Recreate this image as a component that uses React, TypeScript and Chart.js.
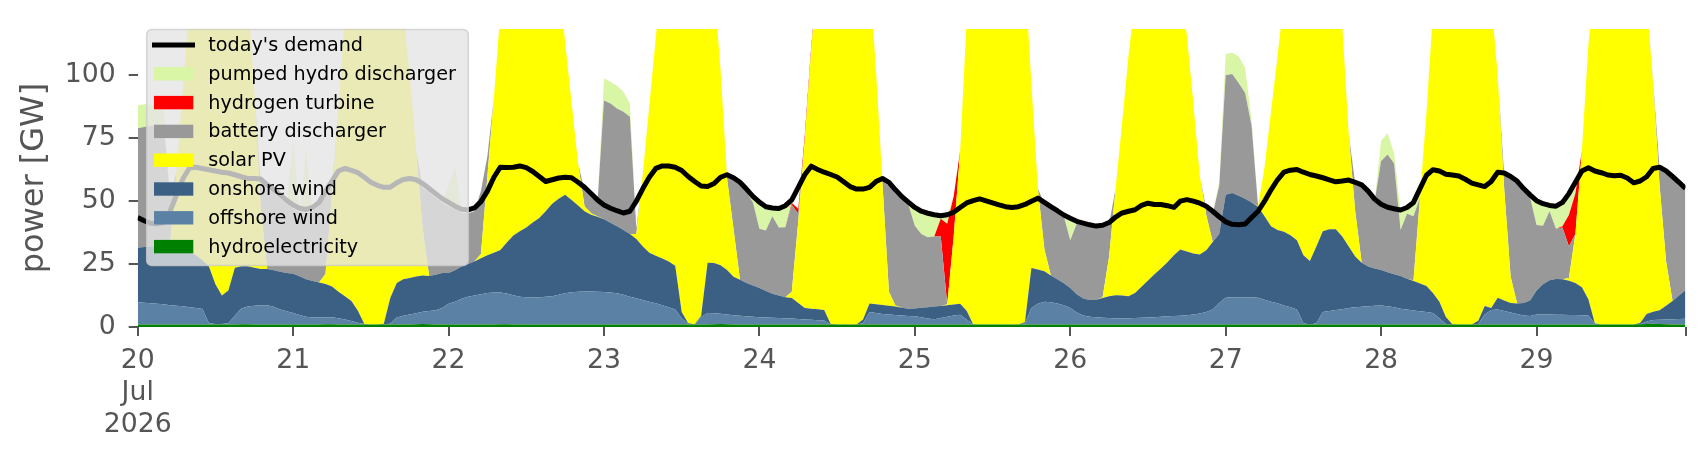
import React, { useEffect, useRef } from "react";
import { Chart, registerables } from "chart.js";

Chart.register(...registerables);

// hours since 20 Jul 2026 00:00
const hours = Array.from({ length: 240 }, (_, i) => i);
const tickHours = [0, 24, 48, 72, 96, 120, 144, 168, 192, 216, 239];
const tickLabels: (string | string[])[] = [["20", "Jul", "2026"], "21", "22", "23", "24", "25", "26", "27", "28", "29", ""];
const yTicks = [0, 25, 50, 75, 100];

const demand = [
  43.5,42.2,41.2,41.0,41.5,46.0,52.5,59.0,63.2,63.5,63.0,62.5,62.0,61.5,61.2,60.5,59.7,59.0,59.0,58.8,56.5,54.5,52.5,50.3,
  48.5,47.2,46.7,47.5,49.5,54.0,58.0,62.0,63.0,62.2,61.3,59.5,57.5,56.3,55.5,55.5,57.3,58.6,59.0,58.5,57.0,55.0,53.0,51.0,
  49.5,48.0,46.8,46.5,47.3,49.8,54.0,59.5,63.5,63.4,63.5,64.0,63.3,61.8,59.8,57.8,58.5,59.2,59.5,59.3,57.5,55.5,53.0,50.5,
  48.5,47.2,46.2,45.3,46.0,50.0,55.0,59.5,63.0,64.0,64.0,63.5,62.2,59.8,57.8,56.0,55.8,57.0,59.5,60.5,59.3,57.5,54.8,51.9,
  49.6,47.8,47.3,47.1,48.2,50.5,55.5,60.5,63.9,62.6,61.5,60.6,59.6,57.7,55.8,54.8,54.8,55.5,57.8,59.0,57.5,54.5,51.8,49.6,
  47.5,46.0,45.2,44.6,44.2,44.6,45.6,47.5,49.3,50.2,50.9,50.1,49.3,48.5,47.8,47.5,47.8,48.7,50.0,51.2,49.5,47.8,46.2,44.5,
  43.2,42.0,41.3,40.6,40.1,40.4,41.5,43.7,45.3,46.0,46.6,48.3,49.2,48.7,48.7,48.2,47.5,50.0,50.6,50.0,49.2,48.0,46.0,43.8,
  41.8,40.8,40.6,40.9,43.5,46.0,50.0,54.5,58.5,61.5,62.3,62.6,61.5,60.6,60.0,59.3,58.5,57.7,58.0,58.4,57.5,56.5,54.0,50.8,
  48.8,47.6,47.0,46.5,47.5,49.5,55.0,60.3,62.5,62.0,60.7,60.4,60.0,58.7,57.2,56.5,55.8,57.8,61.5,61.2,59.8,58.0,55.0,52.5,
  50.2,49.0,48.3,48.0,49.5,53.0,57.5,62.0,63.3,62.0,61.3,60.4,60.1,60.3,59.2,57.3,58.0,59.7,63.0,63.5,62.0,59.8,57.5,55.0,
];

const hydro = [
  1.0,1.0,1.0,1.0,1.0,1.0,1.0,1.0,1.0,1.0,1.0,1.0,1.0,1.0,1.0,1.0,1.1,1.1,1.0,1.0,1.0,1.0,1.0,1.0,
  1.0,1.0,1.0,1.0,1.0,1.1,1.1,1.0,1.0,1.0,1.0,1.0,1.0,1.0,1.0,1.0,1.0,1.0,1.0,1.1,1.2,1.1,1.0,1.0,
  1.0,1.0,1.0,1.0,1.0,1.0,1.0,1.0,1.1,1.1,1.0,1.0,1.0,1.0,1.0,1.0,1.0,1.0,1.0,1.0,1.0,1.0,1.0,1.0,
  1.0,1.0,1.0,1.0,1.0,1.0,1.0,1.0,1.0,1.0,1.0,1.0,1.0,1.0,1.0,1.0,1.0,1.1,1.2,1.1,1.0,1.0,1.0,1.0,
  1.0,1.0,1.0,1.0,1.0,1.0,1.0,1.0,1.0,1.0,1.0,1.0,1.0,1.0,1.0,1.0,1.0,1.0,1.0,1.0,1.0,1.0,1.0,1.0,
  1.0,1.0,1.0,1.0,1.0,1.0,1.0,1.0,1.0,1.0,1.0,1.0,1.0,1.0,1.0,1.0,1.0,1.0,1.0,1.0,1.0,1.0,1.0,1.0,
  1.0,1.0,1.0,1.0,1.0,1.0,1.0,1.0,1.0,1.0,1.0,1.0,1.0,1.0,1.0,1.0,1.0,1.0,1.0,1.0,1.0,1.0,1.0,1.0,
  1.0,1.0,1.0,1.0,1.0,1.0,1.0,1.0,1.0,1.0,1.0,1.0,1.0,1.0,1.0,1.0,1.0,1.0,1.0,1.0,1.0,1.0,1.0,1.0,
  1.0,1.0,1.0,1.0,1.0,1.0,1.0,1.0,1.0,1.0,1.0,1.0,1.0,1.0,1.0,1.0,1.0,1.0,1.0,1.0,1.0,1.0,1.0,1.0,
  1.0,1.0,1.0,1.0,1.0,1.0,1.0,1.0,1.0,1.0,1.0,1.0,1.0,1.0,1.0,1.0,1.1,1.2,1.3,1.2,1.1,1.0,1.0,1.0,
];

const offshoreWind = [
  8.8,8.6,8.4,8.2,8.0,7.6,7.4,7.2,6.8,6.5,6.2,0.5,0.2,0.2,0.5,3.5,6.3,7.0,7.4,7.6,7.6,7.0,6.0,5.3,
  4.6,3.8,3.1,2.8,2.8,2.8,2.8,2.5,2.0,1.4,0.7,0.2,0,0,0.1,0.3,2.8,3.5,4.0,4.4,4.9,5.3,5.7,6.5,
  8.2,9.0,10.2,11.0,11.5,12.0,12.5,12.7,12.6,12.2,11.6,11.0,10.8,10.8,10.8,11.0,11.2,11.8,12.4,12.8,13.0,13.1,13.1,13.0,
  12.9,12.7,12.4,11.8,11.0,10.4,9.7,9.0,8.4,7.6,6.8,6.0,2.5,0.2,0.1,3.0,4.6,4.4,4.1,3.9,3.7,3.5,3.3,3.1,
  2.9,2.8,2.7,2.6,2.5,2.4,2.2,2.0,1.9,1.7,1.6,0,0,0,0,0,0.5,5.0,4.6,4.2,4.0,3.8,3.6,3.4,
  3.3,2.9,2.4,2.1,2.6,3.1,3.6,3.9,2.0,0.1,0,0,0,0,0,0,0,0.5,6.5,8.2,9.0,8.8,8.3,7.6,
  6.5,4.8,3.6,3.1,2.9,2.7,2.6,2.4,2.4,2.5,2.6,2.7,2.8,2.9,3.1,3.3,3.4,3.5,3.7,4.0,4.4,5.0,6.0,8.5,
  10.6,10.8,10.8,10.8,10.8,10.6,9.8,9.0,8.4,7.5,6.8,6.0,0.5,0,0.5,5.0,5.4,5.8,6.1,6.5,6.8,7.0,7.2,7.4,
  7.5,7.2,6.8,6.3,6.0,5.6,5.3,5.0,4.6,2.5,0.2,0,0,0,0,0.2,4.0,5.8,6.0,5.4,4.8,4.2,3.6,3.4,
  4.0,4.0,4.0,3.9,3.9,3.8,3.8,3.7,3.6,0.4,0,0,0,0,0,0,0,1.0,1.5,1.7,1.9,2.1,2.2,2.3,
];

const onshoreWind = [
  21.7,22.2,22.6,22.8,23.0,22.9,22.6,22.3,22.2,21.0,19.3,22.5,15.8,11.3,13.0,19.0,16.7,16.0,15.1,14.4,14.4,14.5,15.0,15.2,
  15.6,15.4,14.9,14.5,13.9,13.2,12.2,10.5,9.2,7.9,4.8,0,0,0,0.2,10.2,13.7,14.5,14.5,14.6,14.4,13.9,14.1,14.0,
  12.3,12.5,12.8,13.0,13.5,14.3,15.0,15.8,16.9,20.3,23.8,26.0,27.7,29.7,31.5,34.0,36.8,38.2,39.1,36.7,34.3,31.9,30.5,29.8,
  28.9,27.7,26.6,25.7,25.0,23.6,21.3,19.5,18.9,18.6,18.2,17.3,2.5,0.3,0,0.5,19.9,19.9,19.2,17.6,15.3,14.3,13.2,12.4,
  11.6,10.5,9.5,8.9,8.3,8.1,6.3,4.5,4.4,4.4,4.2,0.2,0,0,0,0,1.5,3.3,3.4,3.5,3.4,3.3,3.0,2.9,
  3.1,3.7,4.4,5.0,4.7,4.5,4.3,4.3,3.5,0,0,0,0,0,0,0,0,0.5,15.9,13.6,12.2,10.7,9.7,8.8,
  8.0,7.2,6.7,6.6,6.9,7.8,8.6,9.2,9.1,8.7,9.9,12.3,14.7,17.1,19.1,21.4,24.1,26.3,25.3,24.2,23.4,24.5,26.8,27.5,
  40.9,41.4,40.4,39.2,37.7,36.2,33.2,30.0,29.1,29.3,28.7,27.5,27.0,25.2,30.5,32.0,32.4,32.0,28.9,24.5,20.2,17.5,15.8,14.8,
  14.1,13.6,13.2,13.0,12.2,11.7,11.0,10.3,7.9,6.5,2.8,0.1,0,0,0,1.3,3.3,0.7,4.6,4.1,3.7,4.1,4.9,6.1,
  9.5,12.0,13.6,14.2,14.1,13.6,12.7,11.1,6.4,0.1,0,0,0,0,0,0,0.5,3.0,3.3,3.8,5.4,7.2,9.3,11.3,
];

const solarPV = [
  0,0,0,0,0.2,1.5,31,64.5,98,111.5,123.5,131,141,145.5,140.5,126.5,121,108,71.5,24.5,0,0,0,0,
  0,0,0,0,0,4,37,72,112.8,129.7,143.5,153.8,154,151,146.7,133.5,122.5,106,80.5,50,18.7,0,0,0,
  0,0,0,0,0,1.7,31.5,61.5,94.5,106.5,113.6,117,120.5,118.5,114.7,109,101,89,60.5,38.5,16.7,2,0.6,0.2,
  0,0,0,0,0,2,29,58.5,86.7,112.8,124,130.7,152,158.5,156.9,150.5,124.5,109.7,77.7,36.5,19,0,0,0,
  0,0,0,0,0,2.5,32.5,66.5,102.7,132.9,143.2,156.8,159,159,157,154,147,130.7,93,48.3,5.6,0.4,0,0,
  0,0,0,0,0,0.4,27.1,60.8,115.5,138.9,149,154,156,157,156,153,148,138,73.1,32.2,8.8,0,0,0,
  0,0,0,0,0,0.3,15.8,42.4,68.5,95.8,116.5,129,131.5,134,131.8,124.3,116.5,104.2,86,59.8,31.2,14,0,0,
  0,0,0,0,0,0.2,19.6,45.6,69.1,92.2,103.5,110.5,121.5,123.8,118,107,101.2,96.2,84,44.5,18,0,0,0,
  0,0,0,0,0,0.2,34.2,68.7,111.5,130,146,153.9,154,154,149,142.5,131.7,122.5,88.1,44.5,10.5,0,0,0,
  0,0,0,0,0,1.1,19.5,54.2,101,138.5,149,154,154,154,154,149,143.5,125,90.2,49.5,17.7,0,0,0,
];

const batteryDischarger = [
  47.5,47.7,48,48.2,48.2,19,0,0,0,0,0,0,0,0,0,0,0,0,0,9.5,32,30.5,29,27.5,
  25.8,25.5,26.2,27.7,30.3,31,3.5,0,0,0,0,0,0,0,0,0,0,0,0,0,16,33.3,30.7,28,
  26.5,24.3,21.5,20.2,20,25,8,0,0,0,0,0,0,0,0,0,0,0,0,0,0,6,6.3,5.5,
  47.2,47.4,46.8,47,46.5,2,0,0,0,0,0,0,0,0,0,0,0,0,0,1,19.5,37.7,36,33,
  23.5,24,30.8,27,27.8,34.5,3,0,0,0,0,0,0,0,0,0,0,0,0,1,42,44.5,43.4,41.4,
  32.8,29.4,27.9,27.9,27.7,0,0,0,0,0,0,0,0,0,0,0,0,0,0,0,18,26.5,26.5,26.6,
  19,28,29.2,29.3,28.7,28.2,13,0,0,0,0,0,0,0,0,0,0,0,0,0,0,2.5,11.2,19,
  47.5,47.3,44.8,42,30.5,0,0,0,0,0,0,0,0,0,0,0,0,0,0,0,11,30.5,29,26.8,
  43.4,46.7,44,18.2,25.8,25.5,0,0,0,0,0,0,0,0,0,0,0,0,0,5.5,39,47.7,44.5,41,
  26,23.2,27.4,19.9,20.5,12.5,0,0,0,0,0,0,0,0,0,0,0,0,1,6.5,35.5,48.7,44.3,39.9,
];

const hydrogenTurbine = [
  0,0,0,0,0,0,0,0,0,0,0,0,0,0,0,0,0,0,0,0,0,0,0,0,
  0,0,0,0,0,0,0,0,0,0,0,0,0,0,0,0,0,0,0,0,0,0,0,0,
  0,0,0,0,0,0,0,0,0,0,0,0,0,0,0,0,0,0,0,0,0,0,0,0,
  0,0,0,0,0,0,0,0,0,0,0,0,0,0,0,0,0,0,0,0,0,0,0,0,
  0,0,0,0,0,0.8,2,2,1.5,0,0,0,0,0,0,0,0,0,0,0,0,0,0,0,
  0,0,0,0,7,32,16,0,0,0,0,0,0,0,0,0,0,0,0,0,0,0,0,0,
  0,0,0,0,0,0,0,0,0,0,0,0,0,0,0,0,0,0,0,0,0,0,0,0,
  0,0,0,0,0,0,0,0,0,0,0,0,0,0,0,0,0,0,0,0,0,0,0,0,
  0,0,0,0,0,0,0,0,0,0,0,0,0,0,0,0,0,0,0,0,0,0,0,0,
  0,0,0,0,0.5,12.5,16,0,0,0,0,0,0,0,0,0,0,0,0,0,0,0,0,0,
];

const pumpedHydro = [
  9,9,8.5,7.3,6.1,0,0,0,0,0,0,0,0,0,0,0,0,0,0,0,0,0,0,0,
  27,0,24.8,0,0,0,0,0,0,0,0,0,0,0,0,0,0,0,0,0,0,0,0,0,
  8,17.2,0,0,0,0,0,0,0,0,0,0,0,0,0,0,0,0,0,0,0,0,0,0,
  8.7,8.6,9.1,8.1,5.3,0,0,0,0,0,0,0,0,0,0,0,0,0,0,0,0,0,0,1.3,
  10.3,9.7,3.4,8,8.4,0,0,0,0,0,0,0,0,0,0,0,0,0,0,0,0,0,0,0,
  6.3,8.4,9.1,8.1,1.5,3.5,0,0,0,0,0,0,0,0,0,0,0,0,0,0,0,0,0,0.5,
  8.5,0.5,0,0,0,0,0,0,0,0,0,0,0,0,0,0,0,0,0,0,0,0,0,2,
  8.5,8.5,10.5,10,2,0,0,0,0,0,0,0,0,0,0,0,0,0,0,0,0,0,0,0,
  8,8.5,4,8,2,4.5,1.5,0,0,0,0,0,0,0,0,0,0,0,0,0,0,0,0,0,
  9,8.3,2,8.8,10,7.5,2,0,0,0,0,0,0,0,0,0,0,0,0,0,0,0,0,0,
];

const FONT = '"DejaVu Sans", "Liberation Sans", sans-serif';
const GREY = "#555555";

type Item = { label: string; color: string; kind: "line" | "patch" };

const legendPlugin = {
  id: "boxLegend",
  afterDraw(chart: any) {
    const ctx: CanvasRenderingContext2D = chart.ctx;
    const ds = chart.data.datasets;
    const items: Item[] = [
      { label: ds[0].label, color: ds[0].borderColor, kind: "line" },
      ...ds.slice(1).reverse().map((d: any) => ({ label: d.label, color: d.backgroundColor, kind: "patch" as const })),
    ];
    const x = 146.7, y = 29.5, w = 321.6, h = 236, r = 5;
    ctx.save();
    ctx.beginPath();
    ctx.moveTo(x + r, y);
    ctx.lineTo(x + w - r, y);
    ctx.arcTo(x + w, y, x + w, y + r, r);
    ctx.lineTo(x + w, y + h - r);
    ctx.arcTo(x + w, y + h, x + w - r, y + h, r);
    ctx.lineTo(x + r, y + h);
    ctx.arcTo(x, y + h, x, y + h - r, r);
    ctx.lineTo(x, y + r);
    ctx.arcTo(x, y, x + r, y, r);
    ctx.closePath();
    ctx.fillStyle = "rgba(229,229,229,0.8)";
    ctx.fill();
    ctx.strokeStyle = "rgba(204,204,204,0.8)";
    ctx.lineWidth = 1.5;
    ctx.stroke();
    items.forEach((it, i) => {
      const cy = 45 + i * 28.8;
      if (it.kind === "line") {
        ctx.strokeStyle = it.color;
        ctx.lineWidth = 5;
        ctx.lineCap = "butt";
        ctx.beginPath();
        ctx.moveTo(152, cy);
        ctx.lineTo(195, cy);
        ctx.stroke();
      } else {
        ctx.fillStyle = it.color;
        ctx.fillRect(154, cy - 6.7, 39.3, 13.4);
      }
      ctx.fillStyle = "#000000";
      ctx.font = `19.2px ${FONT}`;
      ctx.textBaseline = "middle";
      ctx.textAlign = "left";
      ctx.fillText(it.label, 208.3, cy + 1);
    });
    ctx.restore();
  },
};

function area(label: string, data: number[], color: string, fill: string | number) {
  return {
    label,
    data,
    backgroundColor: color,
    borderColor: "rgba(0,0,0,0)",
    borderWidth: 0,
    pointRadius: 0,
    pointHoverRadius: 0,
    tension: 0,
    fill,
    stack: "generation",
  };
}

export default function App() {
  const ref = useRef<HTMLCanvasElement | null>(null);

  useEffect(() => {
    if (!ref.current) return;
    const chart = new Chart(ref.current, {
      type: "line",
      data: {
        labels: hours,
        datasets: [
          {
            label: "today's demand",
            data: demand,
            borderColor: "#000000",
            backgroundColor: "#000000",
            borderWidth: 5,
            borderJoinStyle: "round",
            pointRadius: 0,
            pointHoverRadius: 0,
            tension: 0,
            fill: false,
            stack: "demand",
          } as any,
          area("hydroelectricity", hydro, "#008000", "origin"),
          area("offshore wind", offshoreWind, "#5B82A4", "-1"),
          area("onshore wind", onshoreWind, "#3B6083", "-1"),
          area("solar PV", solarPV, "#FFFF00", "-1"),
          area("battery discharger", batteryDischarger, "#999999", "-1"),
          area("hydrogen turbine", hydrogenTurbine, "#FF0000", "-1"),
          area("pumped hydro discharger", pumpedHydro, "#D9F5A6", "-1"),
        ],
      },
      options: {
        animation: false,
        responsive: false,
        devicePixelRatio: 1,
        events: [],
        layout: { padding: { left: 0, top: 22, right: 20.5, bottom: 0 } },
        plugins: { legend: { display: false }, tooltip: { enabled: false } },
        scales: {
          x: {
            type: "linear",
            min: 0,
            max: 239,
            afterBuildTicks: (axis: any) => {
              axis.ticks = tickHours.map((v) => ({ value: v }));
            },
            afterFit: (axis: any) => {
              axis.height = 133;
            },
            grid: { display: true, drawOnChartArea: false, drawTicks: true, tickLength: 9, color: GREY, lineWidth: 2 },
            border: { display: false },
            ticks: {
              autoSkip: false,
              maxRotation: 0,
              minRotation: 0,
              padding: 9,
              color: GREY,
              font: { family: FONT, size: 26.7, lineHeight: 1.2 },
              callback: (value: any) => {
                const idx = tickHours.indexOf(Number(value));
                return idx >= 0 ? tickLabels[idx] : "";
              },
            },
          },
          y: {
            type: "linear",
            stacked: true,
            min: 0,
            max: 118.4,
            afterBuildTicks: (axis: any) => {
              axis.ticks = yTicks.map((v) => ({ value: v }));
            },
            afterFit: (axis: any) => {
              axis.width = 137.7;
            },
            grid: { display: true, drawOnChartArea: false, drawTicks: true, tickLength: 9, color: GREY, lineWidth: 2 },
            border: { display: false },
            ticks: {
              padding: 13,
              color: GREY,
              font: { family: FONT, size: 26.7 },
              callback: (value: any) => String(value),
            },
            title: {
              display: true,
              text: "power [GW]",
              color: GREY,
              font: { family: FONT, size: 32 },
              padding: { top: 15, bottom: 0 },
            },
          },
        },
      },
      plugins: [legendPlugin],
    });
    return () => chart.destroy();
  }, []);

  return (
    <div style={{ position: "fixed", left: 0, top: 0, width: 1706, height: 460, background: "#ffffff" }}>
      <canvas ref={ref} width={1706} height={460} style={{ display: "block", width: 1706, height: 460 }} />
    </div>
  );
}
